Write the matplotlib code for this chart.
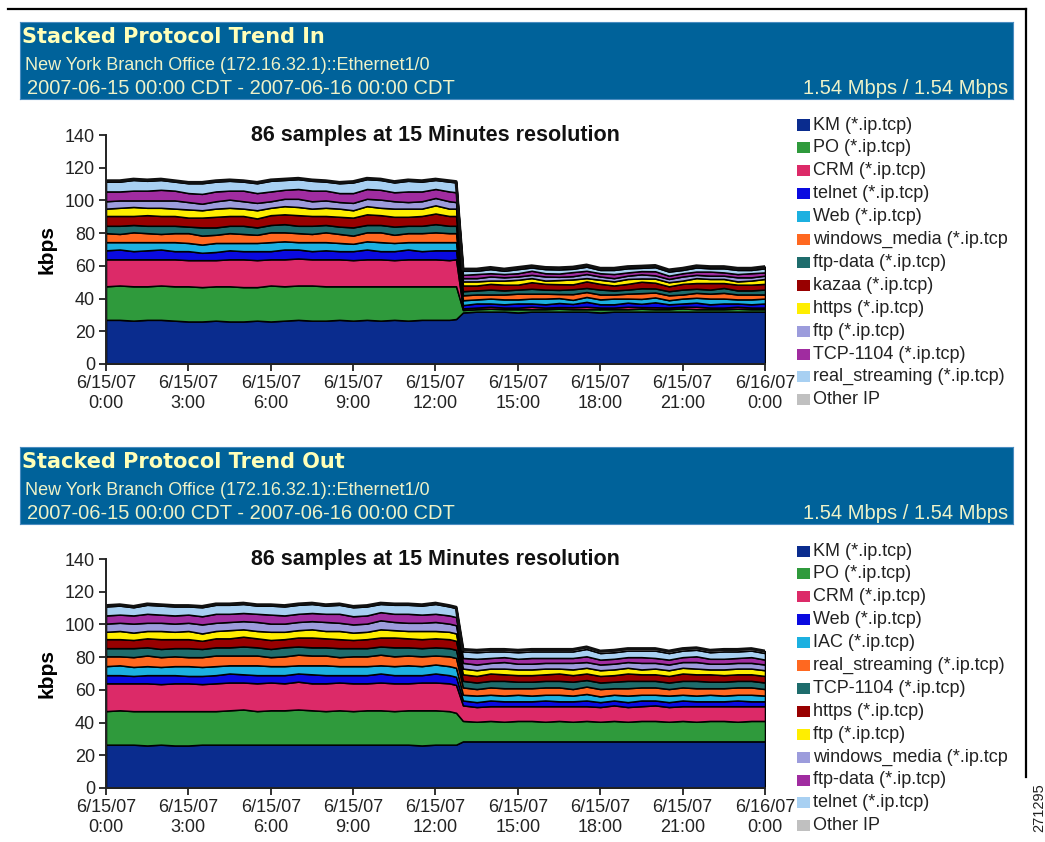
import numpy as np
import matplotlib.pyplot as plt
from matplotlib.patches import Rectangle
from matplotlib.lines import Line2D

plt.rcParams['font.family'] = ['Liberation Sans', 'DejaVu Sans']

W, H = 1045, 842

# sample times (hours after 6/15/07 0:00)
hours = [0, 0.5, 1, 1.5, 2, 2.5, 3, 3.5, 4, 4.5, 5, 5.5, 6, 6.5, 7, 7.5, 8, 8.5,
         9, 9.5, 10, 10.5, 11, 11.5, 12, 12.5, 12.75,
         13, 13.5, 14, 14.5, 15, 15.5, 16, 16.5, 17, 17.5, 18, 18.5,
         19, 19.5, 20, 20.5, 21, 21.5, 22, 22.5, 23, 23.5, 24]

xtick_hours = [0, 3, 6, 9, 12, 15, 18, 21, 24]
xtick_labels = ["6/15/07\n0:00", "6/15/07\n3:00", "6/15/07\n6:00", "6/15/07\n9:00",
                "6/15/07\n12:00", "6/15/07\n15:00", "6/15/07\n18:00", "6/15/07\n21:00",
                "6/16/07\n0:00"]

layer_colors = ['#0a2c8e', '#2f9a3c', '#dc2a68', '#0a0ae0', '#1cb0e0', '#ff6820',
                '#1e6c6c', '#980000', '#ffee00', '#9c9cdc', '#a02ca0', '#a8d0f2', '#c0c0c0']

# ---- Stacked Protocol Trend In (kbps) ----
in_labels = ['KM (*.ip.tcp)', 'PO (*.ip.tcp)', 'CRM (*.ip.tcp)', 'telnet (*.ip.tcp)',
             'Web (*.ip.tcp)', 'windows_media (*.ip.tcp', 'ftp-data (*.ip.tcp)',
             'kazaa (*.ip.tcp)', 'https (*.ip.tcp)', 'ftp (*.ip.tcp)', 'TCP-1104 (*.ip.tcp)',
             'real_streaming (*.ip.tcp)', 'Other IP']

km_in = [27, 27, 26.5, 27, 27, 26.5, 26, 26, 26.5,
         26, 26, 26.5, 26, 26.5, 27, 26.5, 26.5, 27,
         26.5, 27, 26.5, 27, 26.5, 27, 27, 27, 27.5,
         31.5, 32, 32, 32, 31.5, 32, 32, 32,
         32, 32, 31.5, 32, 32, 32, 32, 32,
         32, 32, 32, 32, 32, 32, 32]
po_in = [20.5, 21, 21, 20.5, 21, 21, 21.5, 21, 21,
         21.5, 21, 20.5, 22, 21, 21, 21.5, 21, 20.5,
         21, 20.5, 21, 20.5, 21, 20.5, 20.5, 20.5, 20,
         1.5, 1.5, 1.8, 1.5, 2, 1.5, 1.5, 1.8,
         1.5, 1.5, 2, 1.5, 1.5, 1.8, 1.5, 1.5,
         2, 1.5, 1.5, 1.5, 1.8, 1.5, 1.5]
crm_in = [16.5, 16, 16.5, 16.5, 16, 16.5, 16, 16.5, 16,
          16.5, 17, 16.5, 16, 16.5, 16.5, 16, 16.5, 16.5,
          16, 16.5, 16.5, 16, 16.5, 16.5, 16.5, 16, 16.5,
          1, 1, 1.2, 1, 1, 1.5, 1, 1,
          1.2, 1.5, 1, 1, 1.5, 1, 1.2, 1,
          1, 1.5, 1, 1, 1.2, 1, 1]
telnet_in = [5.5, 6, 5, 5.5, 6, 5, 5.5, 4.5, 5,
             5.5, 5, 5.5, 5, 6, 5.5, 5, 5.5, 5,
             5.5, 6, 5, 5.5, 6, 5, 5.5, 6, 5.5,
             2, 2.5, 2, 2, 2.5, 2, 2, 2.5,
             2, 3, 2, 2, 2.5, 2, 3, 2,
             2, 2.5, 2, 2.5, 2, 2, 2.5]
web_in = [5, 4.5, 5.5, 5, 4.5, 5.5, 5, 5, 5.5,
          4.5, 5, 5, 5.5, 5, 4.5, 5.5, 5, 5,
          4.5, 5, 5.5, 5, 4.5, 5.5, 5, 5, 5,
          3, 2.5, 3, 3, 2.5, 3, 3.5, 3,
          2.5, 3, 3, 3.5, 2.5, 3, 3, 2.5,
          3, 3, 3.5, 3, 2.5, 3, 3]
wm_in = [5.5, 5, 6, 5.5, 5, 5.5, 6, 5.5, 5,
         6, 5.5, 5, 6, 5.5, 5.5, 5, 6, 5.5,
         5, 5.5, 6, 5, 5.5, 5.5, 6, 5.5, 5.5,
         3, 3, 2.5, 3, 3.5, 3, 3, 2.5,
         3.5, 3, 3, 2.5, 3, 3.5, 3, 3,
         2.5, 3, 3, 3.5, 3, 3, 2.5]
ftpdata_in = [4.5, 5, 4.5, 4.5, 5, 4.5, 4, 5, 4.5,
              4.5, 5, 4.5, 4.5, 5, 4.5, 5, 4.5, 4.5,
              5, 4.5, 4.5, 5, 4.5, 4.5, 5, 4.5, 4.5,
              2.5, 2.5, 3, 2.5, 2.5, 3, 2.5, 2.5,
              3, 2.5, 3, 2.5, 2.5, 3, 2.5, 2.5,
              3, 2.5, 2.5, 3, 2.5, 2.5, 3]
kazaa_in = [6, 6, 5.5, 6.5, 6, 6, 5.5, 6, 6.5,
            6, 6, 5.5, 6, 6, 6.5, 6, 5.5, 6,
            6, 6.5, 6, 6, 5.5, 6, 6.5, 6, 6,
            3.5, 3, 3.5, 3.5, 3, 4, 3.5, 3.5,
            3, 4, 3.5, 3, 3.5, 4, 3.5, 3,
            3.5, 3.5, 4, 3, 3.5, 3.5, 3.5]
https_in = [4.5, 5, 5.5, 4.5, 5, 4.5, 5, 4.5, 5,
            5, 4.5, 5, 4.5, 5, 5, 4.5, 5, 5,
            4.5, 5, 4.5, 5, 5, 4.5, 5, 4.5, 4.5,
            2.5, 2.5, 2, 2.5, 3, 2.5, 2, 2.5,
            3, 2, 2.5, 2.5, 3, 2, 2.5, 2.5,
            2, 3, 2.5, 2.5, 2, 2.5, 3]
ftp_in = [4.5, 4.5, 4, 4.5, 4.5, 5, 4.5, 4, 4.5,
          5, 4.5, 4.5, 4, 4.5, 5, 4.5, 4.5, 4,
          4.5, 4.5, 5, 4.5, 4, 4.5, 4.5, 4.5, 4,
          2, 2, 2.5, 2, 2, 2, 2.5, 2,
          2, 2.5, 2, 2, 2, 2.5, 2, 2,
          2.5, 2, 2, 2, 2.5, 2, 2]
tcp1104_in = [6, 5.5, 6, 6, 6.5, 6, 5.5, 6, 6,
              5.5, 6.5, 6, 6, 5.5, 6, 6.5, 6, 5.5,
              6, 6, 6, 5.5, 6.5, 6, 5.5, 6, 6,
              2, 2.5, 2, 2, 2, 2.5, 2, 2,
              2.5, 2, 2, 2.5, 2, 2, 2.5, 2,
              2, 2, 2.5, 2, 2, 2.5, 2]
real_in = [6, 6, 6.5, 6, 6, 5.5, 6, 6.5, 6,
           6, 5.5, 6, 6.5, 6, 6, 6, 5.5, 6,
           6.5, 6, 6, 6, 6.5, 6, 5.5, 6, 6,
           2.5, 2, 2.5, 2, 2.5, 2, 2.5, 2.5,
           2, 2.5, 2, 2.5, 2.5, 2, 2.5, 2.5,
           2, 2.5, 2, 2.5, 2.5, 2, 2.5]
other_in = [0.5, 0.5, 0.5, 0.5, 0.5, 0.5, 0.5, 0.5, 0.5,
            0.5, 0.5, 0.5, 0.5, 0.5, 0.5, 0.5, 0.5, 0.5,
            0.5, 0.5, 0.5, 0.5, 0.5, 0.5, 0.5, 0.5, 0.5,
            1, 1, 1, 1, 1, 1, 1, 1,
            1, 1, 1, 1, 1, 1, 1, 1,
            1, 1, 1, 1, 1, 1, 1]

# ---- Stacked Protocol Trend Out (kbps) ----
out_labels = ['KM (*.ip.tcp)', 'PO (*.ip.tcp)', 'CRM (*.ip.tcp)', 'Web (*.ip.tcp)',
              'IAC (*.ip.tcp)', 'real_streaming (*.ip.tcp)', 'TCP-1104 (*.ip.tcp)',
              'https (*.ip.tcp)', 'ftp (*.ip.tcp)', 'windows_media (*.ip.tcp',
              'ftp-data (*.ip.tcp)', 'telnet (*.ip.tcp)', 'Other IP']

km_out = [26.5, 26.5, 26.5, 26, 26.5, 26, 26, 26.5, 26.5,
          26.5, 26.5, 26.5, 26.5, 26.5, 26.5, 26.5, 26.5, 26.5,
          26.5, 26.5, 26.5, 26.5, 26.5, 26, 26.5, 26.5, 26.5,
          28.5, 28.5, 28.5, 28.5, 28.5, 28.5, 28.5, 28.5,
          28.5, 28.5, 28.5, 28.5, 28.5, 28.5, 28.5, 28.5,
          28.5, 28.5, 28.5, 28.5, 28.5, 28.5, 28.5]
po_out = [20.5, 21, 20.5, 21, 20.5, 21, 21, 20.5, 20.5,
          21, 21.5, 20.5, 21, 21, 21.5, 21, 20.5, 21,
          20.5, 21, 21, 20.5, 21, 21.5, 21, 20.5, 19.5,
          12.5, 12, 12.5, 12, 12.5, 12.5, 12, 12.5,
          12, 12.5, 12, 12.5, 12, 12.5, 12.5, 12,
          12.5, 12, 12.5, 12.5, 12, 12.5, 12.5]
crm_out = [17, 16.5, 17, 17, 16.5, 17, 17, 16.5, 17,
           17, 16.5, 17, 17, 16.5, 17, 16.5, 17, 17,
           17, 16.5, 17, 17, 16.5, 17, 17, 17, 17,
           9.5, 9, 9, 9.5, 9, 9, 9.5, 9,
           9.5, 9, 9, 9.5, 9, 9, 9.5, 9,
           9, 9.5, 9, 9, 9.5, 9, 9]
web_out = [5, 5, 4.5, 5, 5.5, 5, 4.5, 5, 5,
           5.5, 5, 5, 4.5, 5, 5, 5.5, 5, 4.5,
           5, 5, 5.5, 5, 5, 4.5, 5.5, 5, 5,
           3, 3, 3.5, 3, 3, 3, 3.5, 3,
           3, 3.5, 3, 3, 3, 3.5, 3, 3,
           3.5, 3, 3, 3, 3.5, 3, 3]
iac_out = [5.5, 6, 5.5, 5.5, 5, 5.5, 6, 5.5, 5.5,
           5, 5.5, 6, 5.5, 5.5, 5, 5.5, 6, 5.5,
           5.5, 5.5, 5, 5.5, 6, 5.5, 5.5, 5.5, 5.5,
           3.5, 4, 3.5, 3.5, 4, 3.5, 3.5, 4,
           3.5, 4, 3.5, 3.5, 4, 3.5, 3.5, 4,
           3.5, 3.5, 4, 3.5, 3.5, 4, 3.5]
rs_out = [6, 5.5, 6, 6.5, 6, 6, 5.5, 6, 6.5,
          6, 6, 6, 5.5, 6, 6.5, 6, 6, 5.5,
          6, 6, 6.5, 6, 6, 6, 5.5, 6, 6,
          4.5, 4, 4.5, 4.5, 4, 4.5, 4.5, 4.5,
          4, 4.5, 4.5, 4, 4.5, 4.5, 4.5, 4,
          4.5, 4.5, 4, 4.5, 4.5, 4.5, 4]
tcp1104_out = [5, 5, 5.5, 5, 5, 5, 5.5, 5, 5,
               5, 5.5, 5, 5, 5.5, 5, 5, 5, 5.5,
               5, 5, 5, 5.5, 5, 5, 5, 5, 5,
               4, 4, 4, 4.5, 4, 4, 4, 4,
               4.5, 4, 4, 4, 4.5, 4, 4, 4,
               4, 4.5, 4, 4, 4, 4, 4]
https_out = [5.5, 5.5, 5, 5.5, 6, 5.5, 5.5, 5, 5.5,
             5.5, 6, 5.5, 5.5, 5, 5.5, 6, 5.5, 5.5,
             5, 5.5, 5.5, 6, 5.5, 5.5, 5.5, 5.5, 5.5,
             4, 4, 4.5, 4, 4, 4, 4, 4.5,
             4, 4, 4, 4, 4.5, 4, 4, 4,
             4.5, 4, 4.5, 4, 4, 4, 4]
ftp_out = [4.5, 5, 4.5, 4.5, 5, 4.5, 5, 4.5, 4.5,
           5, 4.5, 4.5, 5, 4.5, 4.5, 5, 4.5, 5,
           4.5, 4.5, 5, 4.5, 4.5, 5, 4.5, 4.5, 4.5,
           3.5, 3.5, 3, 3.5, 3.5, 3.5, 3.5, 3,
           3.5, 3.5, 3.5, 3.5, 3.5, 3, 3.5, 3.5,
           3.5, 3.5, 3, 3.5, 3.5, 3.5, 3.5]
wm_out = [5, 5, 5.5, 5, 5, 5, 5, 5.5, 5,
          5, 5, 5.5, 5, 5, 5, 5, 5.5, 5,
          5, 5, 5.5, 5, 5, 5, 5.5, 5, 5,
          3.5, 3.5, 3.5, 4, 3.5, 3.5, 3.5, 3.5,
          4, 3.5, 3.5, 3.5, 3.5, 4, 3.5, 3.5,
          3.5, 4, 3.5, 3.5, 3.5, 3.5, 3.5]
ftpdata_out = [5, 5, 5, 5.5, 5, 5, 5, 5, 5.5,
               5, 5, 5, 5.5, 5, 5, 5, 5, 5.5,
               5, 5, 5, 5, 5.5, 5, 5, 5, 5,
               3, 3.5, 3, 3, 3, 3.5, 3, 3,
               3, 3.5, 3, 3, 3, 3.5, 3, 3,
               3, 3.5, 3, 3, 3, 3.5, 3]
telnet_out = [5.5, 5.5, 5, 5.5, 5.5, 5.5, 5, 5.5, 5.5,
              5.5, 5.5, 5, 5.5, 5.5, 5.5, 5.5, 5, 5.5,
              5.5, 5.5, 5, 5.5, 5.5, 5.5, 6, 5.5, 5.5,
              4, 4, 4, 3.5, 4, 4, 4, 4,
              4, 4.5, 4, 4, 4, 4, 4.5, 4,
              4, 4, 4, 4.5, 4, 4, 4]
other_out = [0.5, 0.5, 0.5, 0.5, 0.5, 0.5, 0.5, 0.5, 0.5,
             0.5, 0.5, 0.5, 0.5, 0.5, 0.5, 0.5, 0.5, 0.5,
             0.5, 0.5, 0.5, 0.5, 0.5, 0.5, 0.5, 0.5, 0.5,
             1.2, 1.2, 1.2, 1.2, 1.2, 1.2, 1.2, 1.2,
             1.2, 1.2, 1.2, 1.2, 1.2, 1.2, 1.2, 1.2,
             1.2, 1.2, 1.2, 1.2, 1.2, 1.2, 1.2]

in_series = [km_in, po_in, crm_in, telnet_in, web_in, wm_in, ftpdata_in, kazaa_in,
             https_in, ftp_in, tcp1104_in, real_in, other_in]
out_series = [km_out, po_out, crm_out, web_out, iac_out, rs_out, tcp1104_out, https_out,
              ftp_out, wm_out, ftpdata_out, telnet_out, other_out]


def fx(x):
    return x / W


def fy(y):
    return 1 - y / H


fig = plt.figure(figsize=(W / 100, H / 100), dpi=100)
fig.patch.set_facecolor('white')

# frame lines of the screenshot
fig.add_artist(Line2D([fx(8), fx(1026)], [fy(9), fy(9)], color='black', lw=1.6))
fig.add_artist(Line2D([fx(1026), fx(1026)], [fy(9), fy(777)], color='black', lw=1.6))
fig.text(fx(1039), fy(808), '271295', rotation=90, ha='center', va='center',
         fontsize=10.5, color='#222222')


def header(top, title):
    hx = fig.add_axes([fx(20), fy(top + 77), 993 / W, 77 / H])
    hx.set_facecolor('#00629a')
    hx.set_xticks([])
    hx.set_yticks([])
    for s in hx.spines.values():
        s.set_color('#4a8cc0')
    fig.text(fx(22), fy(top + 15), title, fontsize=15, fontweight='bold',
             family='DejaVu Sans', color='#ffffb8', va='center', ha='left')
    fig.text(fx(25), fy(top + 43), 'New York Branch Office (172.16.32.1)::Ethernet1/0',
             fontsize=13, color='#eef2c8', va='center', ha='left')
    fig.text(fx(27), fy(top + 66.5), '2007-06-15 00:00 CDT - 2007-06-16 00:00 CDT',
             fontsize=14.5, color='#eef2c8', va='center', ha='left')
    fig.text(fx(1008), fy(top + 66.5), '1.54 Mbps / 1.54 Mbps',
             fontsize=14.5, color='#eef2c8', va='center', ha='right')


def chart(axes_bottom_px, series, labels, legend_top):
    ax = fig.add_axes([fx(106), fy(axes_bottom_px), 659 / W, 229 / H])
    ax.stackplot(hours, *series, colors=layer_colors, edgecolor='black', linewidth=1.1)
    total = np.sum(np.array(series), axis=0)
    ax.plot(hours, total, color='#111111', lw=2.2, solid_joinstyle='round')
    ax.set_xlim(0, 24)
    ax.set_ylim(0, 140)
    ax.set_yticks(range(0, 141, 20))
    ax.set_xticks(xtick_hours)
    ax.set_xticklabels(xtick_labels, linespacing=1.2)
    for side in ('top', 'right'):
        ax.spines[side].set_visible(False)
    for side in ('left', 'bottom'):
        ax.spines[side].set_linewidth(1.4)
        ax.spines[side].set_color('#222222')
    ax.tick_params(axis='both', length=5, width=1.3, labelsize=13,
                   labelcolor='#222222', color='#222222', pad=3)
    ax.set_ylabel('kbps', fontsize=15, fontweight='bold', labelpad=6)
    ax.text(0.5, 1.0, '86 samples at 15 Minutes resolution', transform=ax.transAxes,
            fontsize=15.5, fontweight='bold', color='#111111', ha='center', va='center')
    for i, (lab, col) in enumerate(zip(labels, layer_colors)):
        cy = legend_top + i * 22.9
        fig.add_artist(Rectangle((fx(797), fy(cy + 5.5)), 13 / W, 11 / H,
                                 facecolor=col, edgecolor='none'))
        fig.text(fx(813), fy(cy), lab, fontsize=13, color='#222222',
                 va='center', ha='left')
    return ax


header(22, 'Stacked Protocol Trend In')
chart(364, in_series, in_labels, 125)
header(447, 'Stacked Protocol Trend Out')
chart(788, out_series, out_labels, 551)

fig.savefig('out.png', dpi=100, facecolor='white')
